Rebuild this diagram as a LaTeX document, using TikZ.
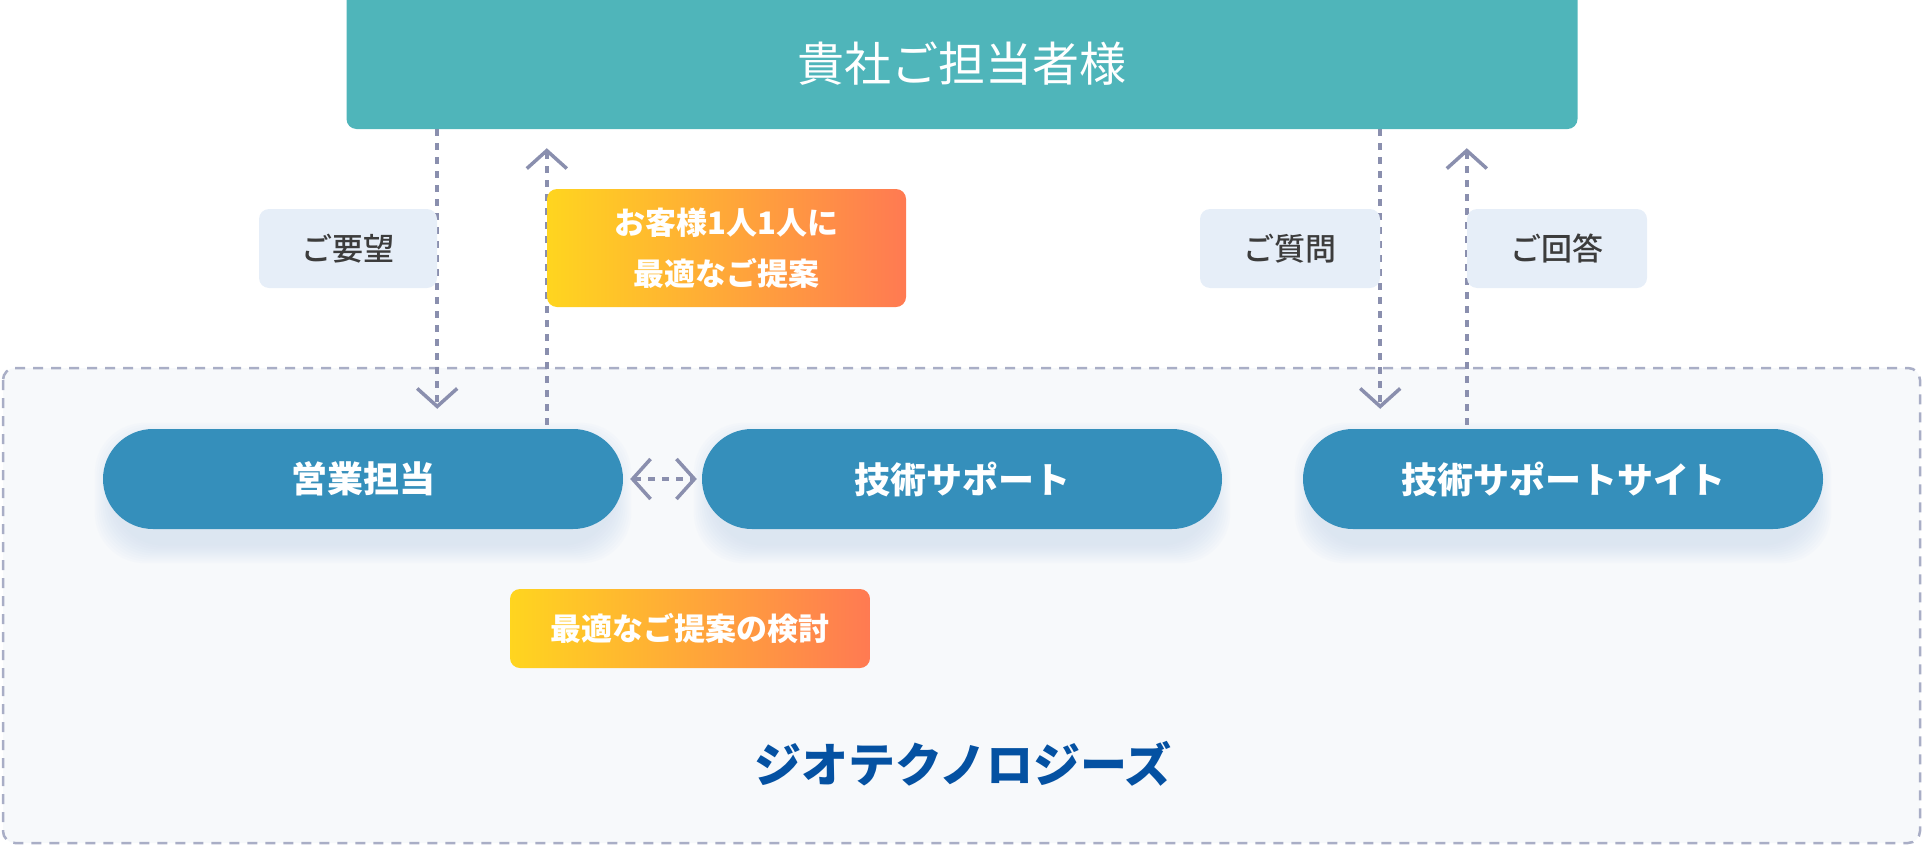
\documentclass[tikz,border=0pt]{standalone}
\usepackage{fontspec}
\setmainfont{Noto Sans CJK JP}
\newfontfamily\jpmedium{Noto Sans CJK JP Medium}
\newfontfamily\jpblack{Noto Sans CJK JP Black}
\usetikzlibrary{arrows.meta,backgrounds}

\definecolor{clientc}{HTML}{4FB5BA}
\definecolor{pillc}{HTML}{358FBB}
\definecolor{askc}{HTML}{E6EEF8}
\definecolor{asktext}{HTML}{3C3C3C}
\definecolor{areac}{HTML}{F7F9FB}
\definecolor{borderc}{HTML}{A9AEC6}
\definecolor{flowc}{HTML}{8A8FAE}
\definecolor{gradl}{HTML}{FFD51F}
\definecolor{gradr}{HTML}{FF7A52}
\definecolor{companyc}{HTML}{0451A2}
\definecolor{shadowc}{HTML}{C9DAEE}

\tikzset{
  clientbox/.style={fill=clientc, rounded corners=10pt, inner sep=0pt,
    minimum width=1231pt, minimum height=150pt},
  clientname/.style={text=white, font=\fontsize{47pt}{50pt}\selectfont},
  askbox/.style={fill=askc, rounded corners=10pt, inner sep=0pt, text=asktext,
    font=\jpmedium\fontsize{31pt}{34pt}\selectfont, minimum width=180pt, minimum height=79pt},
  hotbox/.style={left color=gradl, right color=gradr, rounded corners=10pt,
    inner sep=0pt, text=white, align=center,
    font=\bfseries\fontsize{31pt}{51pt}\selectfont},
  pill/.style={fill=pillc, rounded corners=50pt, inner sep=0pt, text=white,
    font=\bfseries\fontsize{36pt}{40pt}\selectfont,
    minimum width=520pt, minimum height=100pt},
  flow/.style={draw=flowc, line width=3.5pt, dash pattern=on 7pt off 7pt,
    -{Straight Barb[length=18pt,width=40pt]}}
}

\begin{document}
\begin{tikzpicture}[x=1pt,y=-1pt]
\useasboundingbox (0,0) rectangle (1924,846);

% client side
\node[clientbox] (client) at (962,54) {};
\node[clientname] (clientlbl) at ([yshift=-10pt]client.center) {貴社ご担当者様};

\node[askbox, minimum width=178pt] (yobo) at (348,248.5) {ご要望};
\node[askbox] (shitsumon) at (1290,248.5) {ご質問};
\node[askbox] (kaito) at (1557,248.5) {ご回答};

\node[hotbox, minimum width=359pt, minimum height=118pt] (teian) at (726.5,248)
  {お客様1人1人に\\最適なご提案};

% company side
\node[pill] (sales) at (363,479) {営業担当};
\node[pill] (support) at (962,479) {技術サポート};
\node[pill] (site) at (1563,479) {技術サポートサイト};

\node[hotbox, minimum width=360pt, minimum height=79pt] (kento) at (690,628.5)
  {最適なご提案の検討};

\node[text=companyc, font=\jpblack\fontsize{47pt}{50pt}\selectfont] (company)
  at (963,764) {ジオテクノロジーズ};

\begin{scope}[on background layer]
  \draw[draw=borderc, fill=areac, line width=2.5pt, dash pattern=on 10pt off 8pt,
    rounded corners=12pt] (3,368) rectangle (1920,843);
  \foreach \p in {sales,support,site}
    \foreach \k in {1,...,10}
      \fill[shadowc, opacity=0.07, rounded corners=50pt]
        ([xshift={12-2*\k}, yshift={-14-2*\k}]\p.south west) rectangle
        ([xshift={2*\k-12}, yshift={-14+2*\k}]\p.north east);
  % requests and answers
  \draw[flow, shorten >=20pt] (client.south -| yobo.east) -- (yobo.east |- sales.north);
  \draw[flow, shorten <=4pt, shorten >=19pt] (sales.north -| teian.west) -- (client.south -| teian.west);
  \draw[flow, shorten >=20pt] (client.south -| shitsumon.east) -- (shitsumon.east |- site.north);
  \draw[flow, shorten <=4pt, shorten >=19pt] (site.north -| kaito.west) -- (client.south -| kaito.west);
  \draw[flow, {Straight Barb[length=18pt,width=40pt]}-{Straight Barb[length=18pt,width=40pt]},
    shorten <=7pt, shorten >=5pt] (sales.east) -- (support.west);
\end{scope}
\end{tikzpicture}
\end{document}
